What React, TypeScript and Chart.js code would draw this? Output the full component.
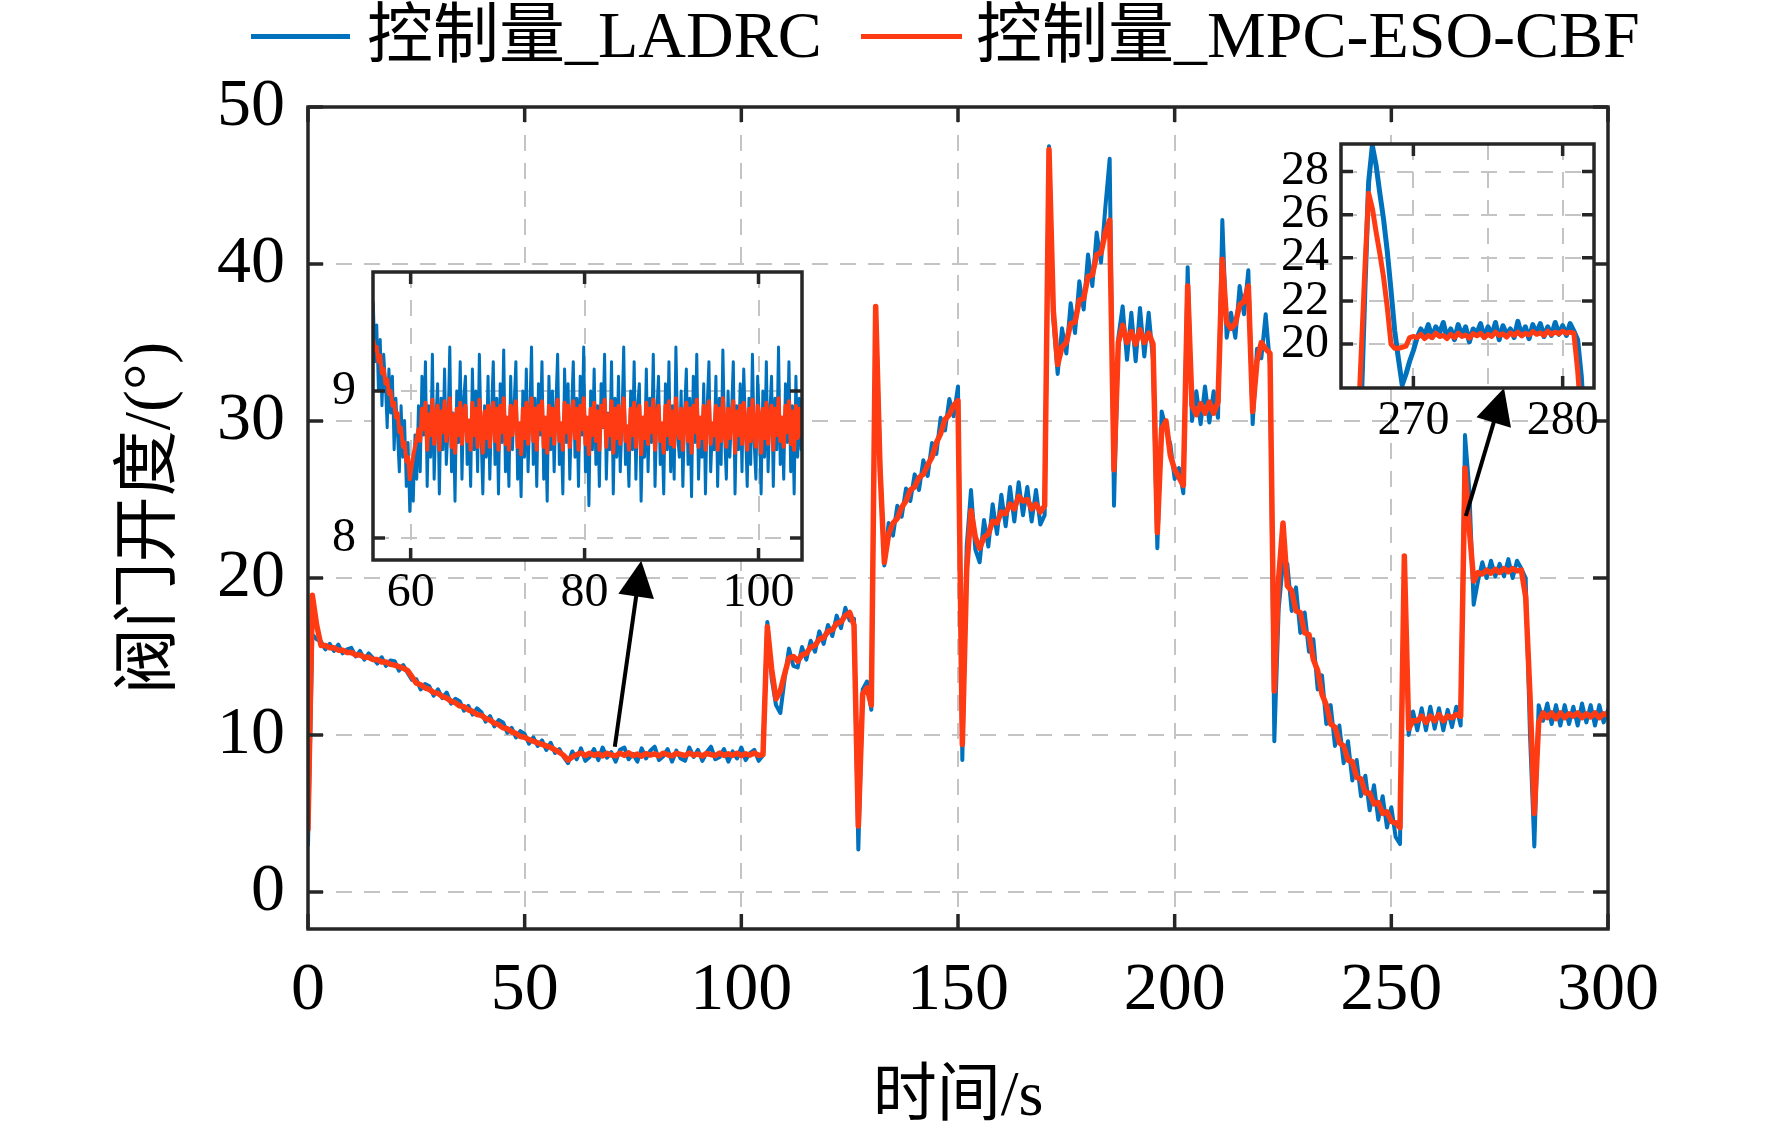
import React, { useEffect, useRef } from 'react';
import { Chart, registerables } from 'chart.js';

Chart.register(...registerables);

// ---------------- text ----------------
const SERIES_LABELS = ['控制量_LADRC', '控制量_MPC-ESO-CBF'];
const X_TITLE = '时间/s';
const Y_TITLE = '阀门开度/(°)';

// ---------------- main axes ----------------
const MAIN_X_TICKS = [0, 50, 100, 150, 200, 250, 300];
const MAIN_Y_TICKS = [0, 10, 20, 30, 40, 50];

// main series: one sample per second, t = 0 .. 300 s
const MAIN_T0 = 0;
const MAIN_DT = 1;
const ladrcMain = [
  3.0, 16.4, 16.1, 15.95, 15.45, 15.8, 15.35, 15.75, 15.2, 15.45,
  15.55, 15.0, 15.35, 14.8, 15.2, 14.9, 14.55, 14.95, 14.4, 14.75,
  14.7, 14.1, 14.45, 13.95, 13.5, 13.55, 12.9, 13.25, 13.1, 12.5,
  12.9, 12.35, 12.7, 12.0, 12.3, 12.15, 11.55, 11.85, 11.3, 11.7,
  11.45, 10.85, 11.2, 10.55, 10.95, 10.8, 10.15, 10.45, 9.85, 10.25,
  10.05, 9.45, 9.85, 9.3, 9.65, 9.05, 9.5, 8.85, 9.1, 8.6,
  8.2, 8.95, 8.45, 9.15, 8.35, 8.6, 9.1, 8.4, 9.2, 8.55,
  8.9, 8.3, 9.05, 9.2, 8.45, 8.8, 8.3, 9.15, 8.5, 9.0,
  9.25, 8.4, 8.65, 9.1, 8.3, 9.0, 8.5, 8.35, 9.2, 8.6,
  9.05, 8.35, 8.9, 9.25, 8.45, 8.6, 9.1, 8.3, 8.95, 8.5,
  9.2, 8.4, 8.85, 9.05, 8.35, 8.7, 17.2, 13.6, 11.9, 11.4,
  13.6, 15.5, 14.4, 14.3, 15.6, 14.8, 16.0, 15.3, 16.6, 15.8,
  17.0, 16.3, 17.6, 16.8, 18.1, 17.3, 17.4, 2.7, 12.9, 13.4,
  11.6, 37.3, 27.5, 20.8, 23.5, 22.7, 24.6, 23.9, 25.7, 24.9,
  26.6, 25.6, 27.5, 26.5, 28.6, 27.9, 30.2, 29.4, 31.4, 30.3,
  32.2, 8.4, 22.0, 25.6, 21.8, 21.0, 23.7, 22.0, 24.7, 22.8,
  25.3, 23.3, 25.8, 23.6, 26.1, 24.0, 25.8, 23.6, 25.6, 23.4,
  24.0, 47.5, 36.5, 33.0, 35.9, 34.3, 37.5, 35.6, 38.9, 37.1,
  40.6, 38.6, 42.0, 40.1, 43.6, 46.7, 24.6, 35.3, 37.3, 33.9,
  36.9, 33.8, 37.2, 34.1, 36.9, 33.9, 21.9, 30.6, 29.5, 28.5,
  26.3, 27.0, 25.4, 39.8, 30.0, 31.9, 29.8, 32.2, 29.9, 31.9,
  30.2, 42.8, 35.3, 36.9, 35.3, 38.6, 36.8, 39.6, 29.8, 34.6,
  34.0, 36.8, 33.6, 9.6, 18.0, 21.0, 20.9, 17.9, 19.4, 16.5,
  17.8, 15.3, 16.1, 12.9, 13.8, 10.7, 11.9, 9.3, 10.6, 8.2,
  9.6, 7.1, 8.4, 6.1, 7.4, 5.2, 6.8, 4.6, 6.1, 4.1,
  5.4, 3.5, 3.05, 21.0, 10.0, 11.5, 10.3, 11.7, 10.3, 11.8,
  10.4, 11.7, 10.3, 11.6, 10.5, 11.8, 10.6, 29.1, 25.6, 18.3,
  19.8, 21.0, 20.0, 21.1, 20.1, 20.9, 20.1, 21.2, 20.0, 21.1,
  20.6, 20.0, 10.0, 2.9, 11.9, 10.9, 12.0, 10.7, 11.9, 10.6,
  11.9, 10.7, 11.8, 10.6, 12.0, 10.8, 11.9, 10.6, 11.9, 10.8,
  11.6,
];
const mpcMain = [
  4.0, 18.9, 17.0, 15.7, 15.7, 15.55, 15.55, 15.4, 15.4, 15.25,
  15.25, 15.1, 15.1, 14.95, 14.95, 14.8, 14.8, 14.65, 14.65, 14.5,
  14.45, 14.35, 14.25, 14.1, 13.7, 13.3, 13.2, 13.0, 12.9, 12.7,
  12.65, 12.45, 12.35, 12.15, 12.05, 11.85, 11.8, 11.6, 11.5, 11.3,
  11.25, 11.05, 10.95, 10.75, 10.65, 10.45, 10.4, 10.2, 10.1, 9.9,
  9.85, 9.7, 9.6, 9.5, 9.4, 9.3, 9.2, 9.05, 8.9, 8.7,
  8.4, 8.6, 8.75, 8.85, 8.68, 8.84, 8.7, 8.8, 8.66, 8.83,
  8.72, 8.67, 8.84, 8.7, 8.86, 8.68, 8.78, 8.65, 8.82, 8.72,
  8.8, 8.66, 8.84, 8.74, 8.67, 8.83, 8.76, 8.68, 8.85, 8.71,
  8.79, 8.66, 8.82, 8.75, 8.68, 8.85, 8.7, 8.8, 8.7, 8.84,
  8.68, 8.8, 8.72, 8.85, 8.7, 8.75, 16.9, 14.2, 12.3, 12.8,
  13.9, 14.9, 15.0, 14.7, 15.1, 15.2, 15.6, 15.7, 16.1, 16.2,
  16.6, 16.7, 17.1, 17.2, 17.6, 17.8, 17.0, 4.2, 12.6, 13.0,
  11.9, 37.3, 27.0, 21.0, 22.8, 23.5, 23.8, 24.5, 24.9, 25.6,
  25.8, 26.4, 26.6, 27.2, 27.7, 28.6, 29.2, 30.1, 30.4, 31.0,
  31.3, 9.4, 20.5, 24.3, 22.6, 21.9, 22.6, 22.8, 23.6, 23.5,
  24.2, 24.1, 24.7, 24.4, 25.2, 24.9, 25.0, 24.4, 24.7, 24.2,
  24.6, 47.3, 37.0, 33.6, 34.7, 35.0, 36.2, 36.3, 37.7, 37.8,
  39.2, 39.3, 40.6, 40.7, 42.0, 42.8, 26.9, 35.0, 36.1, 35.0,
  35.7, 34.9, 35.8, 35.0, 35.6, 34.9, 22.9, 29.5, 30.0, 27.8,
  26.9, 26.4, 25.9, 38.6, 31.0, 30.4, 31.1, 30.5, 31.2, 30.5,
  31.2, 40.3, 36.3, 35.9, 36.2, 37.4, 37.6, 38.6, 30.6, 33.8,
  35.0, 34.6, 34.3, 12.8, 20.0, 23.5, 19.5, 19.2, 17.9, 17.8,
  16.5, 16.4, 14.8, 14.1, 12.6, 11.9, 10.7, 10.5, 9.5, 9.3,
  8.4, 8.3, 7.3, 7.2, 6.3, 6.3, 5.6, 5.7, 5.0, 5.1,
  4.5, 4.4, 4.1, 21.4, 10.4, 10.9, 10.9, 11.2, 10.8, 11.2,
  10.9, 11.3, 10.9, 11.2, 11.1, 11.3, 11.2, 27.0, 23.1, 19.8,
  20.35, 20.25, 20.5, 20.3, 20.55, 20.35, 20.6, 20.4, 20.6, 20.45,
  20.5, 18.8, 12.5, 5.0, 10.8, 11.4, 11.1, 11.4, 11.05, 11.4,
  11.1, 11.35, 11.2, 11.4, 11.1, 11.35, 11.15, 11.4, 11.1, 11.35,
  11.25,
];

// ---------------- inset 1 (55.7 .. 105 s, 0.2 s samples) ----------------
const INSET1_T0 = 55.7;
const INSET1_DT = 0.2;
const INSET1_X_TICKS = [60, 80, 100];
const INSET1_Y_TICKS = [8, 9];
const ladrcInset1 = [
  9.6, 9.2, 9.45, 9.0, 9.35, 8.9, 9.25, 9.05, 8.75, 9.15,
  8.85, 9.1, 8.6, 8.95, 8.7, 8.45, 8.9, 8.55, 8.8, 8.35,
  8.65, 8.18, 8.5, 8.25, 8.7, 8.4, 8.9,
  8.45, 9.1, 8.7, 9.2, 8.35, 8.9, 8.55, 9.25, 8.4, 8.8,
  9.05, 8.3, 8.95, 8.6, 9.15, 8.5, 8.75, 9.3, 8.45, 8.85,
  8.25, 9.0, 8.65, 9.2, 8.4, 8.95, 9.1, 8.5, 8.8, 8.35,
  9.15, 8.6, 9.0, 8.45, 9.25, 8.7, 8.3, 8.9, 8.55, 9.1,
  8.4, 8.85, 9.2, 8.5, 8.95, 8.3, 9.05, 8.65, 9.28, 8.45,
  8.8, 8.35, 9.1, 8.6, 8.9, 9.2, 8.4, 8.75, 8.28, 9.0,
  8.55, 9.15, 8.45, 8.85, 9.3, 8.5, 8.95, 8.35, 9.05, 8.7,
  9.2, 8.4, 8.8, 8.25, 9.1, 8.6, 9.0, 8.45, 8.9, 9.25,
  8.5, 8.75, 8.3, 9.15, 8.65, 9.05, 8.4, 8.85, 9.2, 8.55,
  8.95, 8.35, 9.1, 8.7, 9.3, 8.45, 8.8, 8.22, 9.0, 8.6,
  9.15, 8.5, 8.9, 8.35, 9.05, 8.75, 9.25, 8.4, 8.85, 8.6,
  9.2, 8.3, 8.95, 8.55, 9.1, 8.45, 8.8, 9.3, 8.5, 8.7,
  8.35, 9.0, 8.6, 9.2, 8.4, 8.9, 9.05, 8.25, 8.8, 8.55,
  9.15, 8.45, 8.95, 8.65, 9.25, 8.35, 8.85, 9.1, 8.5, 8.75,
  8.3, 9.05, 8.6, 9.2, 8.45, 8.9, 8.4, 9.3, 8.7, 8.55,
  9.0, 8.35, 8.85, 9.15, 8.5, 8.95, 8.28, 9.1, 8.65, 9.25,
  8.4, 8.8, 8.55, 9.05, 8.3, 8.9, 9.2, 8.45, 8.75, 8.6,
  9.1, 8.35, 8.95, 8.5, 9.28, 8.7, 8.4, 9.0, 8.55, 8.85,
  9.2, 8.3, 8.9, 8.6, 9.05, 8.45, 9.15, 8.75, 8.35, 8.95,
  8.5, 9.25, 8.65, 8.4, 9.1, 8.8, 8.3, 9.0, 8.55, 9.2,
  8.45, 8.85, 9.1, 8.35, 8.95, 8.6, 9.3, 8.5, 8.8, 8.4,
  9.05, 8.65, 9.2, 8.45, 8.9, 8.3, 9.1, 8.55, 8.95, 8.6,
];
const mpcInset1 = [
  9.35, 9.28, 9.3, 9.2, 9.24, 9.12, 9.15, 9.05, 9.08, 8.98,
  9.0, 8.9, 8.92, 8.82, 8.85, 8.72, 8.75, 8.62, 8.65, 8.52,
  8.55, 8.4, 8.48, 8.56, 8.62, 8.68, 8.74,
  8.66, 8.88, 8.74, 8.92, 8.6, 8.84, 8.7, 8.94, 8.64, 8.82,
  8.9, 8.6, 8.86, 8.72, 8.93, 8.66, 8.78, 8.95, 8.62, 8.84,
  8.58, 8.88, 8.7, 8.92, 8.64, 8.86, 8.9, 8.66, 8.8, 8.6,
  8.92, 8.7, 8.88, 8.62, 8.94, 8.74, 8.58, 8.86, 8.68, 8.9,
  8.62, 8.84, 8.92, 8.66, 8.88, 8.6, 8.9, 8.72, 8.95, 8.64,
  8.82, 8.6, 8.9, 8.7, 8.86, 8.93, 8.62, 8.78, 8.57, 8.88,
  8.68, 8.92, 8.64, 8.84, 8.95, 8.66, 8.88, 8.6, 8.9, 8.74,
  8.93, 8.62, 8.82, 8.58, 8.9, 8.7, 8.88, 8.64, 8.86, 8.94,
  8.66, 8.78, 8.6, 8.92, 8.72, 8.9, 8.62, 8.84, 8.93, 8.68,
  8.88, 8.6, 8.9, 8.74, 8.95, 8.64, 8.82, 8.57, 8.88, 8.7,
  8.92, 8.66, 8.86, 8.6, 8.9, 8.76, 8.94, 8.62, 8.84, 8.7,
  8.93, 8.58, 8.88, 8.68, 8.9, 8.64, 8.82, 8.95, 8.66, 8.76,
  8.6, 8.88, 8.7, 8.92, 8.62, 8.86, 8.9, 8.57, 8.82, 8.68,
  8.92, 8.64, 8.88, 8.72, 8.94, 8.6, 8.84, 8.9, 8.66, 8.78,
  8.58, 8.9, 8.7, 8.93, 8.64, 8.86, 8.62, 8.95, 8.74, 8.68,
  8.88, 8.6, 8.84, 8.92, 8.66, 8.88, 8.58, 8.9, 8.72, 8.94,
  8.62, 8.82, 8.68, 8.9, 8.6, 8.86, 8.93, 8.64, 8.78, 8.7,
  8.9, 8.6, 8.88, 8.66, 8.95, 8.74, 8.62, 8.88, 8.68, 8.84,
  8.93, 8.58, 8.86, 8.7, 8.9, 8.64, 8.92, 8.76, 8.6, 8.88,
  8.66, 8.94, 8.72, 8.62, 8.9, 8.82, 8.58, 8.88, 8.68, 8.92,
  8.64, 8.84, 8.9, 8.6, 8.88, 8.7, 8.95, 8.66, 8.82, 8.62,
  8.9, 8.72, 8.93, 8.64, 8.86, 8.6, 8.9, 8.68, 8.88, 8.7,
];

// ---------------- inset 2 (265 .. 282 s) ----------------
const INSET2_T0 = 265;
const INSET2_DT = 0.25;
const INSET2_X_TICKS = [270, 275, 280];
const INSET2_X_LABELED = [270, 280];
const INSET2_Y_TICKS = [20, 22, 24, 26, 28];
const ladrcInset2 = [
  11.0, 11.5, 10.8, 11.4, 10.9,
  13.0, 17.0, 22.5, 27.5, 29.2, 28.3, 27.0, 25.8, 24.3, 22.5,
  20.6, 19.3, 18.1, 18.6, 19.2, 19.7, 20.3, 20.7,
  20.4, 20.9, 20.3, 20.8, 20.5, 21.0, 20.3, 20.7, 20.2, 20.9,
  20.4, 20.8, 20.1, 20.7, 20.5, 20.95, 20.3, 20.8, 20.4, 21.0,
  20.2, 20.85, 20.45, 20.7, 20.3, 21.05, 20.4, 20.8, 20.25, 20.9,
  20.5, 20.95, 20.35, 20.8, 20.4, 21.0, 20.45, 20.85, 20.4, 20.95,
  20.6,
  20.2, 18.5, 15.5, 12.0, 8.0,
];
const mpcInset2 = [
  11.1, 11.2, 11.0, 11.2, 11.2,
  15.5, 19.5, 23.5, 27.0, 26.3, 25.2, 24.2, 23.1, 21.7, 20.0,
  19.8, 19.8, 19.85, 19.9, 20.3, 20.35,
  20.3, 20.45, 20.25, 20.4, 20.3, 20.5, 20.35, 20.4, 20.25, 20.45,
  20.3, 20.5, 20.35, 20.42, 20.28, 20.48, 20.38, 20.5, 20.3, 20.45,
  20.35, 20.55, 20.4, 20.47, 20.32, 20.52, 20.4, 20.55, 20.38, 20.5,
  20.42, 20.58, 20.45, 20.52, 20.4, 20.6, 20.45, 20.55, 20.48, 20.6,
  20.5, 20.55, 20.5,
  18.8, 16.5, 15.0, 13.8, 12.5,
];

// ---------------- annotation arrows (data coordinates of main axes) ----------------
const ARROW_TAILS = [[70.8, 9.25], [267.2, 23.95]];
const ARROW_TIPS = [[76.9, 21.1], [276.0, 32.1]];

// ---------------- styles ----------------
const FONT = "'Liberation Serif', 'Times New Roman', 'Noto Sans CJK SC', serif";
const BLUE = '#0072BD';
const RED = '#FF3B14';
const FRAME = '#262626';
const GRID = '#c4c4c4';

function toPoints(values: number[], t0: number, dt: number) {
  return values.map((y, i) => ({ x: Math.round((t0 + i * dt) * 1000) / 1000, y }));
}

const framePlugin = {
  id: 'frame',
  beforeDraw(chart: any, _a: any, opts: any) {
    if (!opts.fill) return;
    const { ctx, chartArea } = chart;
    ctx.save();
    ctx.fillStyle = '#ffffff';
    ctx.fillRect(chartArea.left, chartArea.top, chartArea.right - chartArea.left, chartArea.bottom - chartArea.top);
    ctx.restore();
  },
  afterDatasetsDraw(chart: any, _a: any, opts: any) {
    const { ctx, chartArea, scales } = chart;
    const { left, right, top, bottom } = chartArea;
    const len = opts.tickLength;
    ctx.save();
    ctx.strokeStyle = FRAME;
    ctx.lineWidth = opts.lineWidth;
    ctx.setLineDash([]);
    ctx.beginPath();
    for (const v of opts.xMarks) {
      const px = scales.x.getPixelForValue(v);
      ctx.moveTo(px, bottom);
      ctx.lineTo(px, bottom - len);
      ctx.moveTo(px, top);
      ctx.lineTo(px, top + len);
    }
    for (const v of opts.yMarks) {
      const py = scales.y.getPixelForValue(v);
      ctx.moveTo(left, py);
      ctx.lineTo(left + len, py);
      ctx.moveTo(right, py);
      ctx.lineTo(right - len, py);
    }
    ctx.stroke();
    ctx.strokeRect(left, top, right - left, bottom - top);
    ctx.restore();
  },
};

const arrowPlugin = {
  id: 'arrows',
  afterDatasetsDraw(chart: any, _a: any, opts: any) {
    const { ctx, scales } = chart;
    opts.tails.forEach((tail: number[], i: number) => {
      const tip = opts.tips[i];
      const x1 = scales.x.getPixelForValue(tail[0]);
      const y1 = scales.y.getPixelForValue(tail[1]);
      const x2 = scales.x.getPixelForValue(tip[0]);
      const y2 = scales.y.getPixelForValue(tip[1]);
      const ang = Math.atan2(y2 - y1, x2 - x1);
      const hl = opts.headLength;
      const hw = opts.headWidth / 2;
      const bx = x2 - hl * Math.cos(ang);
      const by = y2 - hl * Math.sin(ang);
      ctx.save();
      ctx.strokeStyle = '#000';
      ctx.fillStyle = '#000';
      ctx.lineWidth = opts.lineWidth;
      ctx.beginPath();
      ctx.moveTo(x1, y1);
      ctx.lineTo(bx + Math.cos(ang) * 4, by + Math.sin(ang) * 4);
      ctx.stroke();
      ctx.beginPath();
      ctx.moveTo(x2, y2);
      ctx.lineTo(bx + hw * Math.sin(ang), by - hw * Math.cos(ang));
      ctx.lineTo(bx - hw * Math.sin(ang), by + hw * Math.cos(ang));
      ctx.closePath();
      ctx.fill();
      ctx.restore();
    });
  },
};

// order: the higher value is drawn first, so the MPC curve (order 1) lies on top of LADRC (order 2)
function lineDataset(label: string, values: number[], t0: number, dt: number, color: string, width: number, order: number) {
  return {
    label,
    order,
    data: toPoints(values, t0, dt),
    borderColor: color,
    backgroundColor: color,
    borderWidth: width,
    pointRadius: 0,
    tension: 0,
    fill: false,
    borderJoinStyle: 'round' as const,
    borderCapStyle: 'round' as const,
  };
}

type AxisSpec = {
  min: number;
  max: number;
  ticks: number[];
  size: number; // axis box size (height for x, width for y)
  fontSize: number;
  padding: number;
  label?: (v: number) => string;
  title?: { text: string; size: number; padding: any };
};

function makeScales(xs: AxisSpec, ys: AxisSpec) {
  const axis = (s: AxisSpec, horizontal: boolean) => ({
    type: 'linear' as const,
    min: s.min,
    max: s.max,
    afterBuildTicks: (sc: any) => {
      sc.ticks = s.ticks.map((value) => ({ value }));
    },
    afterFit: (sc: any) => {
      if (horizontal) sc.height = s.size;
      else sc.width = s.size;
    },
    ticks: {
      autoSkip: false,
      maxRotation: 0,
      minRotation: 0,
      color: '#000',
      padding: s.padding,
      font: { family: FONT, size: s.fontSize, lineHeight: 1 },
      callback: (v: any) => (s.label ? s.label(Number(v)) : String(v)),
    },
    grid: { color: GRID, lineWidth: 2, drawTicks: false },
    border: { display: false, dash: [16, 12] },
    title: s.title
      ? {
          display: true,
          text: s.title.text,
          color: '#000',
          font: { family: FONT, size: s.title.size, lineHeight: 1 },
          padding: s.title.padding,
        }
      : { display: false },
  });
  return { x: axis(xs, true), y: axis(ys, false) };
}

function baseOptions(scales: any, padding: any, plugins: any) {
  return {
    animation: false as const,
    responsive: false,
    maintainAspectRatio: false,
    events: [] as any[],
    layout: { padding },
    scales,
    plugins: {
      legend: { display: false },
      tooltip: { enabled: false },
      ...plugins,
    },
  };
}

function mainConfig(): any {
  return {
    type: 'line',
    data: {
      datasets: [
        lineDataset(SERIES_LABELS[0], ladrcMain, MAIN_T0, MAIN_DT, BLUE, 4, 2),
        lineDataset(SERIES_LABELS[1], mpcMain, MAIN_T0, MAIN_DT, RED, 5.5, 1),
      ],
    },
    options: baseOptions(
      makeScales(
        {
          min: 0, max: 300, ticks: MAIN_X_TICKS, size: 209, fontSize: 68, padding: 28,
          title: { text: X_TITLE, size: 64, padding: { top: 0, bottom: 8 } },
        },
        {
          min: -2.36, max: 50, ticks: MAIN_Y_TICKS, size: 308, fontSize: 68, padding: 23,
          title: { text: Y_TITLE, size: 66, padding: { top: 119, bottom: 0 } },
        },
      ),
      { left: 0, top: 107, right: 164, bottom: 0 },
      {
        frame: { tickLength: 15, lineWidth: 3.5, xMarks: MAIN_X_TICKS, yMarks: MAIN_Y_TICKS, fill: false },
        arrows: { tails: ARROW_TAILS, tips: ARROW_TIPS, headLength: 36, headWidth: 36, lineWidth: 4 },
      },
    ),
    plugins: [framePlugin, arrowPlugin],
  };
}

function inset1Config(): any {
  return {
    type: 'line',
    data: {
      datasets: [
        lineDataset(SERIES_LABELS[0], ladrcInset1, INSET1_T0, INSET1_DT, BLUE, 3, 2),
        lineDataset(SERIES_LABELS[1], mpcInset1, INSET1_T0, INSET1_DT, RED, 4, 1),
      ],
    },
    options: baseOptions(
      makeScales(
        { min: 55.67, max: 105, ticks: INSET1_X_TICKS, size: 78, fontSize: 48, padding: 9 },
        { min: 7.85, max: 9.81, ticks: INSET1_Y_TICKS, size: 73, fontSize: 48, padding: 17 },
      ),
      { left: 0, top: 40, right: 50, bottom: 0 },
      { frame: { tickLength: 12, lineWidth: 3.5, xMarks: INSET1_X_TICKS, yMarks: INSET1_Y_TICKS, fill: true } },
    ),
    plugins: [framePlugin],
  };
}

function inset2Config(): any {
  return {
    type: 'line',
    data: {
      datasets: [
        lineDataset(SERIES_LABELS[0], ladrcInset2, INSET2_T0, INSET2_DT, BLUE, 5, 2),
        lineDataset(SERIES_LABELS[1], mpcInset2, INSET2_T0, INSET2_DT, RED, 5, 1),
      ],
    },
    options: baseOptions(
      makeScales(
        {
          min: 265.15, max: 282.1, ticks: INSET2_X_TICKS, size: 80, fontSize: 48, padding: 9,
          label: (v) => (INSET2_X_LABELED.includes(v) ? String(v) : ''),
        },
        { min: 17.96, max: 29.28, ticks: INSET2_Y_TICKS, size: 101, fontSize: 48, padding: 12 },
      ),
      { left: 0, top: 40, right: 50, bottom: 0 },
      { frame: { tickLength: 12, lineWidth: 3.5, xMarks: INSET2_X_LABELED, yMarks: INSET2_Y_TICKS, fill: true } },
    ),
    plugins: [framePlugin],
  };
}

function ChartCanvas(props: { left: number; top: number; width: number; height: number; config: () => any }) {
  const ref = useRef<HTMLCanvasElement>(null);
  useEffect(() => {
    const chart = new Chart(ref.current as HTMLCanvasElement, props.config());
    return () => chart.destroy();
  }, []);
  const { left, top, width, height } = props;
  return (
    <canvas
      ref={ref}
      width={width}
      height={height}
      style={{ position: 'absolute', left, top, width, height }}
    />
  );
}

const legendText: React.CSSProperties = {
  position: 'absolute',
  top: 2,
  fontFamily: FONT,
  fontSize: 66,
  lineHeight: '66px',
  color: '#000',
  whiteSpace: 'nowrap',
};

export default function App() {
  return (
    <div
      style={{
        position: 'absolute',
        left: 0,
        top: 0,
        width: 1772,
        height: 1138,
        background: '#fff',
        overflow: 'hidden',
      }}
    >
      <ChartCanvas left={0} top={0} width={1772} height={1138} config={mainConfig} />
      {/* inset 1: plot box 373..802 x 271..560 */}
      <ChartCanvas left={300} top={231} width={552} height={407} config={inset1Config} />
      {/* inset 2: plot box 1341..1594 x 144..388 */}
      <ChartCanvas left={1240} top={104} width={404} height={364} config={inset2Config} />
      <div style={{ position: 'absolute', left: 251, top: 34, width: 99, height: 5, background: BLUE }} />
      <span style={{ ...legendText, left: 367 }}>{SERIES_LABELS[0]}</span>
      <div style={{ position: 'absolute', left: 861, top: 34, width: 101, height: 5, background: RED }} />
      <span style={{ ...legendText, left: 976 }}>{SERIES_LABELS[1]}</span>
    </div>
  );
}
